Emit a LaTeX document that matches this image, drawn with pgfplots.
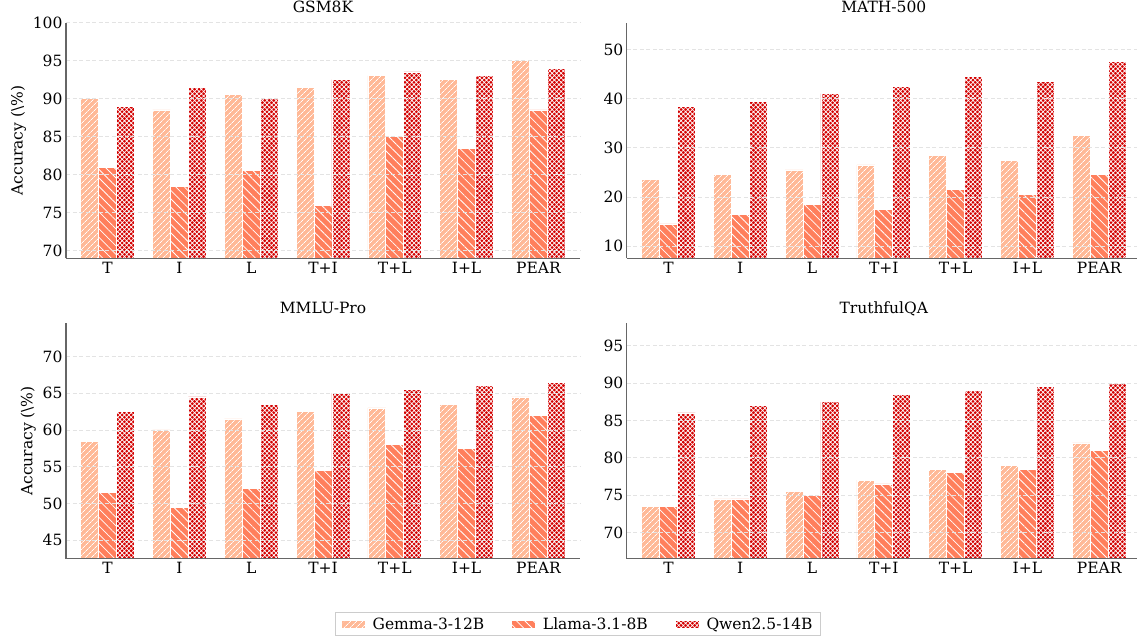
\documentclass[border=0pt]{standalone}
\usepackage{fontspec}
\setmainfont{DejaVu Serif}
\usepackage{pgfplots}
\pgfplotsset{compat=1.18}
\usepackage{pgfplotstable}
\usetikzlibrary{patterns.meta}

\definecolor{cGemma}{HTML}{FFB997}
\definecolor{cLlama}{HTML}{FF7F5C}
\definecolor{cQwen}{HTML}{D30000}

\pgfplotstableread{
x g l q
0 90   81   89
1 88.5 78.5 91.5
2 90.5 80.5 90
3 91.5 76   92.5
4 93   85   93.5
5 92.5 83.5 93
6 95   88.5 94
}\gsm
\pgfplotstableread{
x g l q
0 23.5 14.5 38.5
1 24.5 16.5 39.5
2 25.5 18.5 41
3 26.5 17.5 42.5
4 28.5 21.5 44.5
5 27.5 20.5 43.5
6 32.5 24.5 47.5
}\mathf
\pgfplotstableread{
x g l q
0 58.5 51.5 62.5
1 60   49.5 64.5
2 61.5 52   63.5
3 62.5 54.5 65
4 63   58   65.5
5 63.5 57.5 66
6 64.5 62   66.5
}\mmlu
\pgfplotstableread{
x g l q
0 73.5 73.5 86
1 74.5 74.5 87
2 75.5 75   87.5
3 77   76.5 88.5
4 78.5 78   89
5 79   78.5 89.5
6 82   81   90
}\tqa

\newcommand{\fs}{\fontsize{15.5}{18}\selectfont}

\pgfplotsset{
  panel/.style={
    set layers, axis on top,
    scale only axis, width=514pt,
    xmin=-0.58, xmax=6.58,
    xtick={0,...,6}, xticklabels={T,I,L,T+I,T+L,I+L,PEAR},
    axis x line*=bottom, axis y line*=left,
    axis line style={-, draw=black!60, line width=1.1pt},
    major tick length=0pt,
    ymajorgrids,
    grid style={/pgfplots/on layer=axis background, dash pattern=on 4pt off 2.5pt, draw=black!11, line width=0.7pt},
    tick label style={font=\fs},
    /pgf/number format/assume math mode=true,
    title style={font=\fs, at={(0.5,1)}, anchor=south, text depth=0pt},
    ylabel style={font=\fs},
    ybar, bar width=0.25,
    legend image code/.code={\draw[##1] (0pt,-4pt) rectangle (24pt,4pt); \path (29pt,0pt);},
  },
  gem/.style={fill=cGemma, draw=white, line width=0.7pt, bar shift=-0.25,
    postaction={pattern={Lines[angle=45,distance=4pt,line width=0.7pt]}, pattern color=white}},
  lla/.style={fill=cLlama, draw=white, line width=0.7pt, bar shift=0,
    postaction={pattern={Lines[angle=-45,distance=6pt,line width=0.8pt]}, pattern color=white}},
  qwe/.style={fill=cQwen, draw=white, line width=0.7pt, bar shift=0.25,
    postaction={pattern={Hatch[angle=45,distance=3.2pt,line width=0.7pt]}, pattern color=white}},
}

\begin{document}
\begin{tikzpicture}

\begin{axis}[panel, at={(66pt,-258.3pt)}, anchor=south west, height=235.8pt,
  title={GSM8K}, ylabel={Accuracy (\textbackslash\%)},
  ymin=69, ymax=100, ytick={70,75,...,100}]
\addplot[gem] table[x=x,y=g]{\gsm};
\addplot[lla] table[x=x,y=l]{\gsm};
\addplot[qwe] table[x=x,y=q]{\gsm};
\end{axis}

\begin{axis}[panel, at={(626.8pt,-258.3pt)}, anchor=south west, height=235.8pt,
  title={MATH-500},
  ymin=7.5, ymax=55.5, ytick={10,20,...,50}]
\addplot[gem] table[x=x,y=g]{\mathf};
\addplot[lla] table[x=x,y=l]{\mathf};
\addplot[qwe] table[x=x,y=q]{\mathf};
\end{axis}

\begin{axis}[panel, at={(66pt,-558.7pt)}, anchor=south west, height=235.4pt,
  title={MMLU-Pro}, ylabel={Accuracy (\textbackslash\%)},
  ymin=42.5, ymax=74.5, ytick={45,50,...,70},
  legend columns=3,
  legend style={at={(0.9957,-0.2774)}, anchor=center, font=\fs,
    draw=black!20, line width=0.8pt, inner xsep=6pt, inner ysep=3pt,
    /tikz/every even column/.append style={column sep=25pt}},
  ]
\addplot[gem] table[x=x,y=g]{\mmlu};
\addplot[lla] table[x=x,y=l]{\mmlu};
\addplot[qwe] table[x=x,y=q]{\mmlu};
\legend{Gemma-3-12B,Llama-3.1-8B,Qwen2.5-14B}
\end{axis}

\begin{axis}[panel, at={(626.8pt,-558.7pt)}, anchor=south west, height=235.4pt,
  title={TruthfulQA},
  ymin=66.5, ymax=98, ytick={70,75,...,95}]
\addplot[gem] table[x=x,y=g]{\tqa};
\addplot[lla] table[x=x,y=l]{\tqa};
\addplot[qwe] table[x=x,y=q]{\tqa};
\end{axis}

\pgfresetboundingbox
\useasboundingbox (0,0) rectangle (1137pt,-639pt);
\end{tikzpicture}
\end{document}
